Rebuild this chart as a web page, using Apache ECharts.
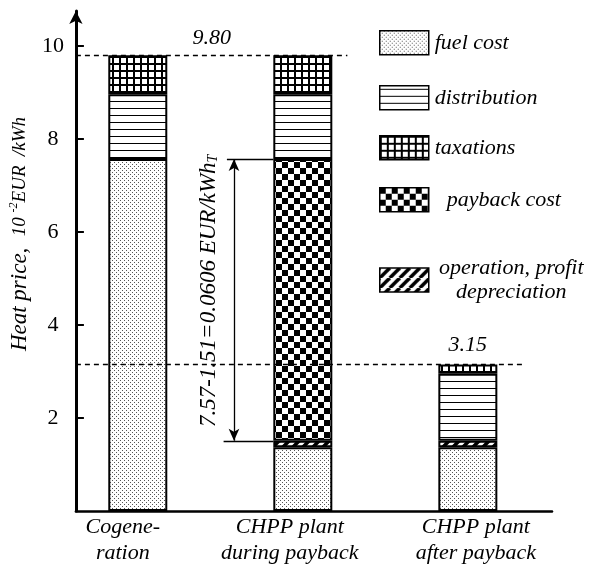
<!DOCTYPE html>
<html>
<head>
<meta charset="utf-8">
<script src="https://cdn.jsdelivr.net/npm/echarts@6/dist/echarts.min.js"></script>
<style>
  html, body { margin: 0; padding: 0; background: #fff; }
  #chart { width: 589px; height: 565px; }
</style>
</head>
<body>
<div id="chart"></div>
<script>
// data
const categories = ['Cogene-\nration', 'CHPP plant\nduring payback', 'CHPP plant\nafter payback']
const fuelCost = [7.57, 1.37, 1.37]
const operation = [null, 0.14, 0.14]
const payback = [null, 6.06, null]
const distribution = [1.39, 1.39, 1.44]
const taxations = [0.84, 0.84, 0.20]
const yTicks = [2, 4, 6, 8, 10]
const legendNames = ['fuel cost', 'distribution', 'taxations', 'payback cost', 'operation, profit depreciation']

const FONT = 'Liberation Serif'
const xMin = -0.375
const xMax = 2.51

const total = i => [fuelCost, operation, payback, distribution, taxations]
  .reduce((s, arr) => s + (arr[i] || 0), 0)
const paybackBottom = fuelCost[1] + operation[1]
const paybackTop = paybackBottom + payback[1]

// pattern tiles
function tile(w, h, draw) {
  const c = document.createElement('canvas')
  c.width = w
  c.height = h
  const ctx = c.getContext('2d')
  ctx.fillStyle = '#fff'
  ctx.fillRect(0, 0, w, h)
  ctx.fillStyle = '#000'
  ctx.strokeStyle = '#000'
  draw(ctx)
  return { image: c, repeat: 'repeat' }
}
const dots = tile(4, 4, ctx => {
  ctx.fillStyle = '#555'
  ctx.fillRect(0, 0, 1, 1)
  ctx.fillRect(2, 2, 1, 1)
})
const hLines = tile(8, 7, ctx => ctx.fillRect(0, 3, 8, 1))
const grid = tile(7, 7, ctx => {
  ctx.fillRect(0, 0, 7, 2)
  ctx.fillRect(0, 0, 2, 7)
})
const checker = tile(12, 12, ctx => {
  ctx.fillRect(0, 0, 6, 6)
  ctx.fillRect(6, 6, 6, 6)
})
const stripes = tile(10, 10, ctx => {
  ctx.lineWidth = 3.5
  for (const o of [-10, 0, 10]) {
    ctx.beginPath()
    ctx.moveTo(o, 10)
    ctx.lineTo(o + 10, 0)
    ctx.stroke()
  }
})

// value first so the stack is done on y, category index second
function makeSeries(name, values, pattern, extra) {
  return Object.assign({
    name: name,
    type: 'bar',
    stack: 'price',
    barWidth: 59,
    encode: { x: 1, y: 0 },
    data: values.map((v, i) => [v == null ? '-' : v, i]),
    itemStyle: { color: pattern, borderColor: '#000', borderWidth: 2 },
    emphasis: { disabled: true }
  }, extra || {})
}

const txt = { fontFamily: FONT, fontStyle: 'italic', fontSize: 22, color: '#000' }

const chart = echarts.init(document.getElementById('chart'))
const option = {
  animation: false,
  grid: { left: 73, right: 37, top: 11, bottom: 54 },
  legend: legendNames.map((n, i) => ({
    data: [n],
    left: 374,
    top: [25, 80, 130, 182, 252][i],
    icon: 'rect',
    itemWidth: 49,
    itemHeight: 24,
    selectedMode: false,
    itemStyle: { borderColor: '#000', borderWidth: 1.5 },
    formatter: i === 4 ? '{c|operation, profit}\n{c|depreciation}' : '{t|' + n + '}',
    textStyle: Object.assign({}, txt, {
      padding: [0, 0, 0, i === 3 ? 13 : 1],
      rich: {
        t: Object.assign({}, txt, { lineHeight: 24 }),
        c: Object.assign({}, txt, { lineHeight: 24, width: 153, align: 'center' })
      }
    })
  })),
  xAxis: {
    type: 'value',
    min: xMin,
    max: xMax,
    axisLine: { show: true, onZero: false, lineStyle: { color: '#000', width: 2.5 } },
    axisTick: { show: false },
    splitLine: { show: false },
    axisLabel: {
      customValues: [0, 1, 2],
      margin: 3,
      formatter: v => categories[v].split('\n').map(s => '{r' + v + '|' + s + '}').join('\n'),
      rich: {
        r0: Object.assign({}, txt, { lineHeight: 26, padding: [0, 30, 0, 0] }),
        r1: Object.assign({}, txt, { lineHeight: 26, padding: [0, 26, 0, 0] }),
        r2: Object.assign({}, txt, { lineHeight: 26, padding: [0, 0, 0, 16] })
      }
    }
  },
  yAxis: {
    type: 'value',
    min: 0,
    max: 10.75,
    interval: 2,
    axisLine: {
      show: true,
      onZero: false,
      lineStyle: { color: '#000', width: 3 },
      symbol: ['none', 'arrow'],
      symbolSize: [10, 13]
    },
    axisTick: { show: true, inside: true, length: 8, customValues: yTicks, lineStyle: { color: '#000', width: 2 } },
    axisLabel: {
      customValues: yTicks,
      align: 'center',
      margin: 23,
      fontFamily: FONT,
      fontSize: 22,
      color: '#000'
    },
    splitLine: { show: false },
    name: '{a|Heat price,  }{b|10 }{c|-2}{b|EUR  /kWh}',
    nameLocation: 'middle',
    nameRotate: 90,
    nameGap: 41,
    nameTextStyle: {
      padding: [0, 0, 0, 54],
      rich: {
        a: Object.assign({}, txt, { fontSize: 23 }),
        b: Object.assign({}, txt, { fontSize: 19 }),
        c: Object.assign({}, txt, { fontSize: 12, verticalAlign: 'top', padding: [0, 0, 8, 0] })
      }
    }
  },
  series: [
    makeSeries(legendNames[0], fuelCost, dots, {
      markLine: {
        silent: true,
        symbol: ['none', 'none'],
        lineStyle: { color: '#000', type: [5, 4], width: 1.3 },
        data: [
          [
            { coord: [xMin, total(0)], label: { show: true, position: 'middle', distance: 6, formatter: total(0).toFixed(2), ...txt } },
            { coord: [1.27, total(0)] }
          ],
          [
            { coord: [xMin, total(2)], label: { show: false } },
            { coord: [2.34, total(2)] }
          ]
        ]
      }
    }),
    makeSeries(legendNames[4], operation, stripes),
    makeSeries(legendNames[3], payback, checker, {
      markLine: {
        silent: true,
        symbol: ['arrow', 'arrow'],
        symbolSize: [8, 12],
        lineStyle: { color: '#000', type: 'solid', width: 1.3 },
        data: [
          [
            {
              coord: [0.583, paybackBottom],
              label: {
                show: true,
                position: 'middle',
                distance: 14,
                padding: [0, 0, 0, 18],
                formatter: '{a|' + paybackTop.toFixed(2) + '-' + paybackBottom.toFixed(2) + '=' +
                  (payback[1] / 100).toFixed(4) + ' EUR/kWh}{s|T}',
                rich: {
                  a: Object.assign({}, txt, { fontSize: 23 }),
                  s: Object.assign({}, txt, { fontSize: 14, verticalAlign: 'bottom', padding: [8, 0, 0, 0] })
                }
              }
            },
            { coord: [0.583, paybackTop] }
          ],
          [
            { coord: [0.54, paybackTop], symbol: 'none', label: { show: false } },
            { coord: [0.822, paybackTop], symbol: 'none' }
          ],
          [
            { coord: [0.52, paybackBottom], symbol: 'none', label: { show: false } },
            { coord: [0.822, paybackBottom], symbol: 'none' }
          ]
        ]
      }
    }),
    makeSeries(legendNames[1], distribution, hLines),
    makeSeries(legendNames[2], taxations, grid, {
      label: {
        show: true,
        position: 'top',
        distance: 8,
        ...txt,
        formatter: p => p.dataIndex === 2 ? total(2).toFixed(2) : ''
      }
    })
  ]
}
chart.setOption(option)
</script>
</body>
</html>
